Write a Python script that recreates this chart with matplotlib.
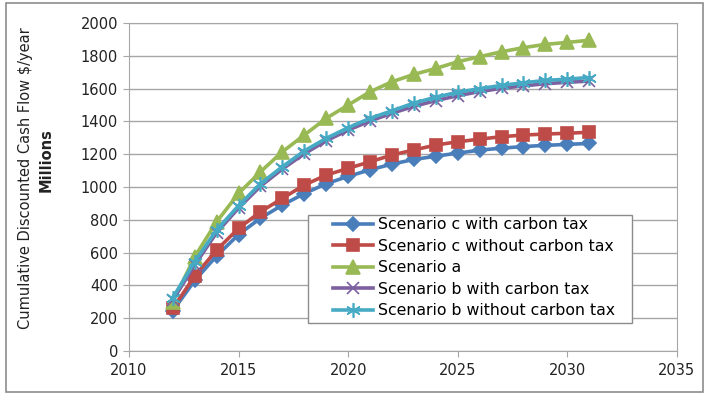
import matplotlib
matplotlib.use("Agg")
import matplotlib.pyplot as plt
from matplotlib.patches import Rectangle

years = list(range(2012, 2032))
c_with_tax = [245, 430, 580, 710, 810, 890, 960, 1020, 1065, 1105, 1140, 1168,
              1188, 1207, 1225, 1237, 1247, 1254, 1260, 1266]
c_without_tax = [260, 457, 616, 748, 849, 931, 1012, 1073, 1114, 1154, 1195, 1226,
                 1256, 1276, 1292, 1307, 1317, 1323, 1328, 1334]
scen_a = [300, 575, 788, 961, 1093, 1215, 1317, 1419, 1500, 1581, 1642, 1687,
          1723, 1764, 1795, 1825, 1850, 1870, 1882, 1895]
b_with_tax = [310, 525, 722, 872, 1005, 1110, 1203, 1282, 1347, 1403, 1450, 1492,
              1527, 1557, 1582, 1602, 1617, 1630, 1639, 1646]
b_without_tax = [325, 545, 738, 886, 1020, 1124, 1220, 1297, 1362, 1419, 1465, 1512,
                 1548, 1578, 1600, 1620, 1636, 1650, 1658, 1668]

labels = ["Scenario c with carbon tax", "Scenario c without carbon tax", "Scenario a",
          "Scenario b with carbon tax", "Scenario b without carbon tax"]
series = [c_with_tax, c_without_tax, scen_a, b_with_tax, b_without_tax]
colors = ["#4A7EBB", "#BE4B48", "#98B954", "#7D60A0", "#46AAC5"]
markers = ["D", "s", "^", "x", (6, 2, 0)]
msizes = [7, 9, 10, 8.5, 10.5]

plt.rcParams['font.family'] = ['DejaVu Sans']

fig = plt.figure(figsize=(7.06, 3.97), dpi=100)
fig.patches.append(Rectangle((0.0085, 0.0126), 0.9873, 0.9798, transform=fig.transFigure,
                             fill=False, edgecolor="#8C8C8C", linewidth=1.2))
ax = fig.add_axes([0.1827, 0.1159, 0.776, 0.826])

for y, lab, c, m, ms in zip(series, labels, colors, markers, msizes):
    ax.plot(years, y, color=c, linewidth=2.6, marker=m, markersize=ms,
            markeredgecolor=c, markerfacecolor=c, markeredgewidth=1.2, label=lab)

ax.set_xlim(2010, 2035)
ax.set_ylim(0, 2000)
ax.set_xticks(range(2010, 2036, 5))
ax.set_yticks(range(0, 2001, 200))
ax.grid(axis="y", color="#A6A6A6", linewidth=1)
ax.set_axisbelow(True)
for s in ax.spines.values():
    s.set_color("#A6A6A6")
ax.tick_params(axis="both", colors="#A6A6A6", labelcolor="#222222", labelsize=10.5, length=4)
ax.tick_params(axis="x", pad=5)
ax.tick_params(axis="y", pad=4)

fig.text(0.036, 0.552, "Cumulative Discounted Cash Flow $/year", rotation=90,
         ha="center", va="center", fontsize=10.5, color="#222222")
fig.text(0.066, 0.597, "Millions", rotation=90, ha="center", va="center",
         fontsize=10.5, fontweight="bold", color="#222222")

ax.add_patch(Rectangle((0.3266, 0.0854), 0.5912, 0.329, transform=ax.transAxes,
                       facecolor="white", edgecolor="#8C8C8C", linewidth=1, zorder=4.5))
leg = ax.legend(loc="upper left", bbox_to_anchor=(0.3723, 0.4085), fontsize=11.3,
                frameon=False, handlelength=2.55, borderpad=0, labelspacing=0.42,
                handletextpad=0.3, borderaxespad=0)
leg.set_zorder(5)

fig.savefig("out.png", dpi=100)
